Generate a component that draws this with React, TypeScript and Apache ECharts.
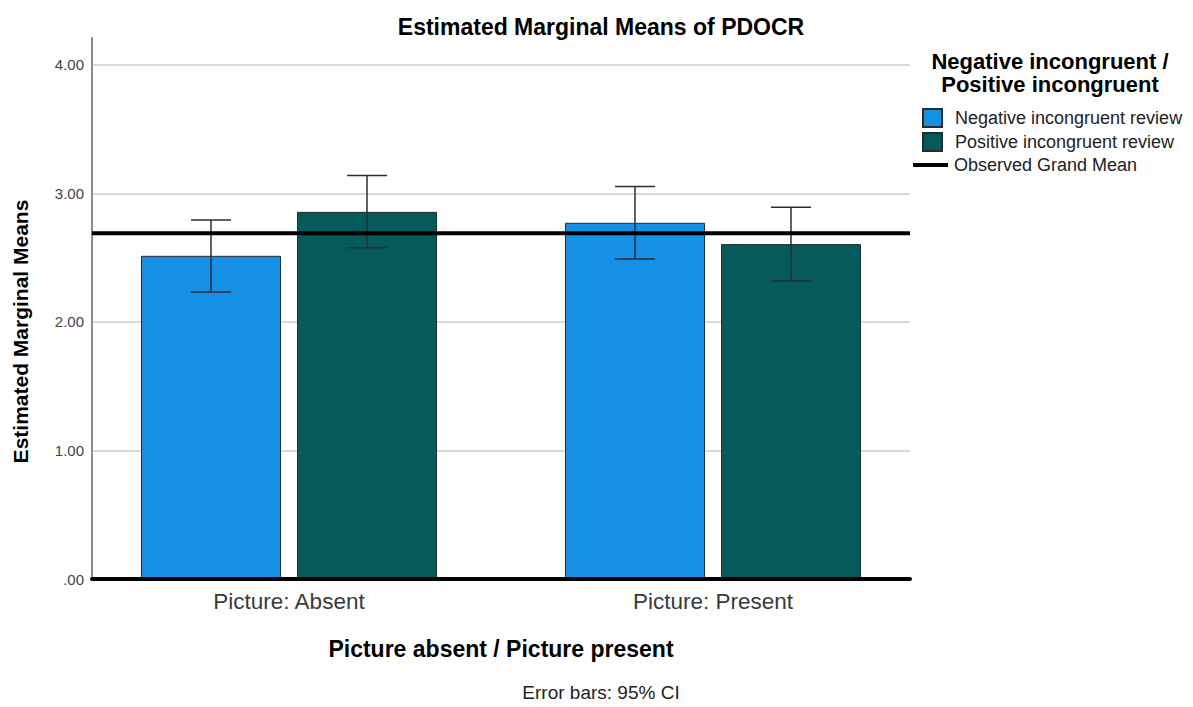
import React, { useEffect, useRef } from "react";
import * as echarts from "echarts";

const categories = ["Picture: Absent", "Picture: Present"];
const negMeans = [2.515, 2.772];
const posMeans = [2.857, 2.606];
const negLow = [2.233, 2.49];
const negHigh = [2.793, 3.055];
const posLow = [2.578, 2.319];
const posHigh = [3.14, 2.892];
const grandMean = 2.69;
const seriesNames = ["Negative incongruent review", "Positive incongruent review"];
const Y_MIN = 0;
const Y_MAX = 4.21;
const Y_STEP = 1;

const FONT = "'Liberation Sans', Arial, sans-serif";
const BAR_W = 140;
const BAR_GAP_PX = 16;
const BLUE = "#1490e6";
const TEAL = "#045b59";

function errRender(offset: number) {
  return (params: any, api: any) => {
    const idx = api.value(0);
    const x = api.coord([idx, 0])[0] + offset;
    const yl = api.coord([idx, api.value(1)])[1];
    const yh = api.coord([idx, api.value(2)])[1];
    const cap = 20;
    const style = { stroke: "#2e2e2e", lineWidth: 1.5 };
    return {
      type: "group",
      children: [
        { type: "line", shape: { x1: x, y1: yl, x2: x, y2: yh }, style },
        { type: "line", shape: { x1: x - cap, y1: yh, x2: x + cap, y2: yh }, style },
        { type: "line", shape: { x1: x - cap, y1: yl, x2: x + cap, y2: yl }, style },
      ],
    };
  };
}

export default function App() {
  const ref = useRef<HTMLDivElement>(null);
  useEffect(() => {
    if (!ref.current) return;
    const chart = echarts.init(ref.current, undefined, { renderer: "svg" });
    const half = (BAR_W * 2 + BAR_GAP_PX) / 2 - BAR_W / 2;
    const option: any = {
      animation: false,
      backgroundColor: "#ffffff",
      textStyle: { fontFamily: FONT },
      title: [
        {
          text: "Estimated Marginal Means of PDOCR",
          left: 596,
          textAlign: "center",
          top: 10,
          textStyle: { fontFamily: FONT, fontSize: 23, fontWeight: "bold", color: "#000" },
        },
        {
          text: "Negative incongruent /\nPositive incongruent",
          left: 1045,
          textAlign: "center",
          top: 45,
          textStyle: { fontFamily: FONT, fontSize: 22, fontWeight: "bold", color: "#000", lineHeight: 23 },
        },
        {
          text: "Error bars: 95% CI",
          left: 596,
          textAlign: "center",
          top: 678,
          textStyle: { fontFamily: FONT, fontSize: 19, fontWeight: "normal", color: "#222" },
        },
      ],
      legend: [
        {
          data: seriesNames,
          orient: "vertical",
          left: 922,
          top: 108,
          padding: 0,
          itemWidth: 19,
          itemHeight: 18,
          itemGap: 4,
          icon: "rect",
          textStyle: { fontFamily: FONT, fontSize: 18, color: "#222", lineHeight: 18, padding: [0, 0, 0, 8] },
        },
        {
          data: ["Observed Grand Mean"],
          orient: "vertical",
          left: 913,
          top: 156,
          padding: 0,
          itemWidth: 35,
          itemHeight: 4,
          icon: "rect",
          textStyle: { fontFamily: FONT, fontSize: 18, color: "#222", lineHeight: 18, padding: [0, 0, 0, 1] },
        },
      ],
      grid: [
        { left: 77, right: 268, top: 38, bottom: 128 },
        { left: 92, right: 283, top: 38, bottom: 128 },
      ],
      xAxis: [
        {
          type: "category",
          gridIndex: 0,
          data: categories,
          axisLine: { show: false },
          axisTick: { show: false },
          axisLabel: { fontFamily: FONT, fontSize: 22.5, color: "#3a3a3a", margin: 11 },
          name: "Picture absent / Picture present",
          nameLocation: "middle",
          nameGap: 58,
          nameTextStyle: { fontFamily: FONT, fontSize: 23, fontWeight: "bold", color: "#000" },
        },
        {
          type: "category",
          gridIndex: 1,
          data: ["", ""],
          boundaryGap: false,
          z: 10,
          axisLine: { show: true, lineStyle: { color: "#000", width: 4 } },
          axisTick: { show: false },
          axisLabel: { show: false },
          splitLine: { show: false },
        },
      ],
      yAxis: [
        { type: "value", gridIndex: 0, min: Y_MIN, max: Y_MAX, interval: Y_STEP, show: false },
        {
          type: "value",
          gridIndex: 1,
          min: Y_MIN,
          max: Y_MAX,
          interval: Y_STEP,
          axisLine: { show: true, lineStyle: { color: "#8c8c8c", width: 2 } },
          axisTick: { show: false },
          axisLabel: {
            fontFamily: FONT,
            fontSize: 15,
            color: "#444",
            margin: 8,
            showMaxLabel: false,
            formatter: (v: number) => (v === 0 ? ".00" : v.toFixed(2)),
          },
          splitLine: { show: true, showMaxLine: false, showMinLine: false, lineStyle: { color: "#cccccc", width: 1.5 } },
          name: "Estimated Marginal Means",
          nameLocation: "middle",
          nameGap: 61,
          nameTextStyle: { fontFamily: FONT, fontSize: 21, fontWeight: "bold", color: "#000", padding: [0, 46, 0, 0] },
        },
      ],
      series: [
        {
          name: seriesNames[0],
          type: "bar",
          xAxisIndex: 0,
          yAxisIndex: 0,
          data: negMeans,
          barWidth: BAR_W,
          barGap: `${(BAR_GAP_PX / BAR_W) * 100}%`,
          itemStyle: { color: BLUE, borderColor: "#2a2a2a", borderWidth: 1 },
          z: 2,
        },
        {
          name: seriesNames[1],
          type: "bar",
          xAxisIndex: 0,
          yAxisIndex: 0,
          data: posMeans,
          barWidth: BAR_W,
          barGap: `${(BAR_GAP_PX / BAR_W) * 100}%`,
          itemStyle: { color: TEAL, borderColor: "#2a2a2a", borderWidth: 1 },
          z: 2,
        },
        {
          name: "negErr",
          type: "custom",
          xAxisIndex: 0,
          yAxisIndex: 0,
          data: categories.map((_, i) => [i, negLow[i], negHigh[i]]),
          encode: { x: 0, y: [1, 2] },
          renderItem: errRender(-half),
          clip: false,
          z: 4,
        },
        {
          name: "posErr",
          type: "custom",
          xAxisIndex: 0,
          yAxisIndex: 0,
          data: categories.map((_, i) => [i, posLow[i], posHigh[i]]),
          encode: { x: 0, y: [1, 2] },
          renderItem: errRender(half),
          clip: false,
          z: 4,
        },
        {
          name: "Observed Grand Mean",
          type: "line",
          xAxisIndex: 1,
          yAxisIndex: 1,
          data: [grandMean, grandMean],
          symbol: "none",
          color: "#000",
          lineStyle: { color: "#000", width: 4 },
          itemStyle: { color: "#000" },
          z: 6,
        },
      ],
    };
    chart.setOption(option);
    return () => chart.dispose();
  }, []);
  return (
    <div
      ref={ref}
      style={{ position: "fixed", left: 0, top: 0, width: 1193, height: 707, background: "#fff" }}
    />
  );
}
